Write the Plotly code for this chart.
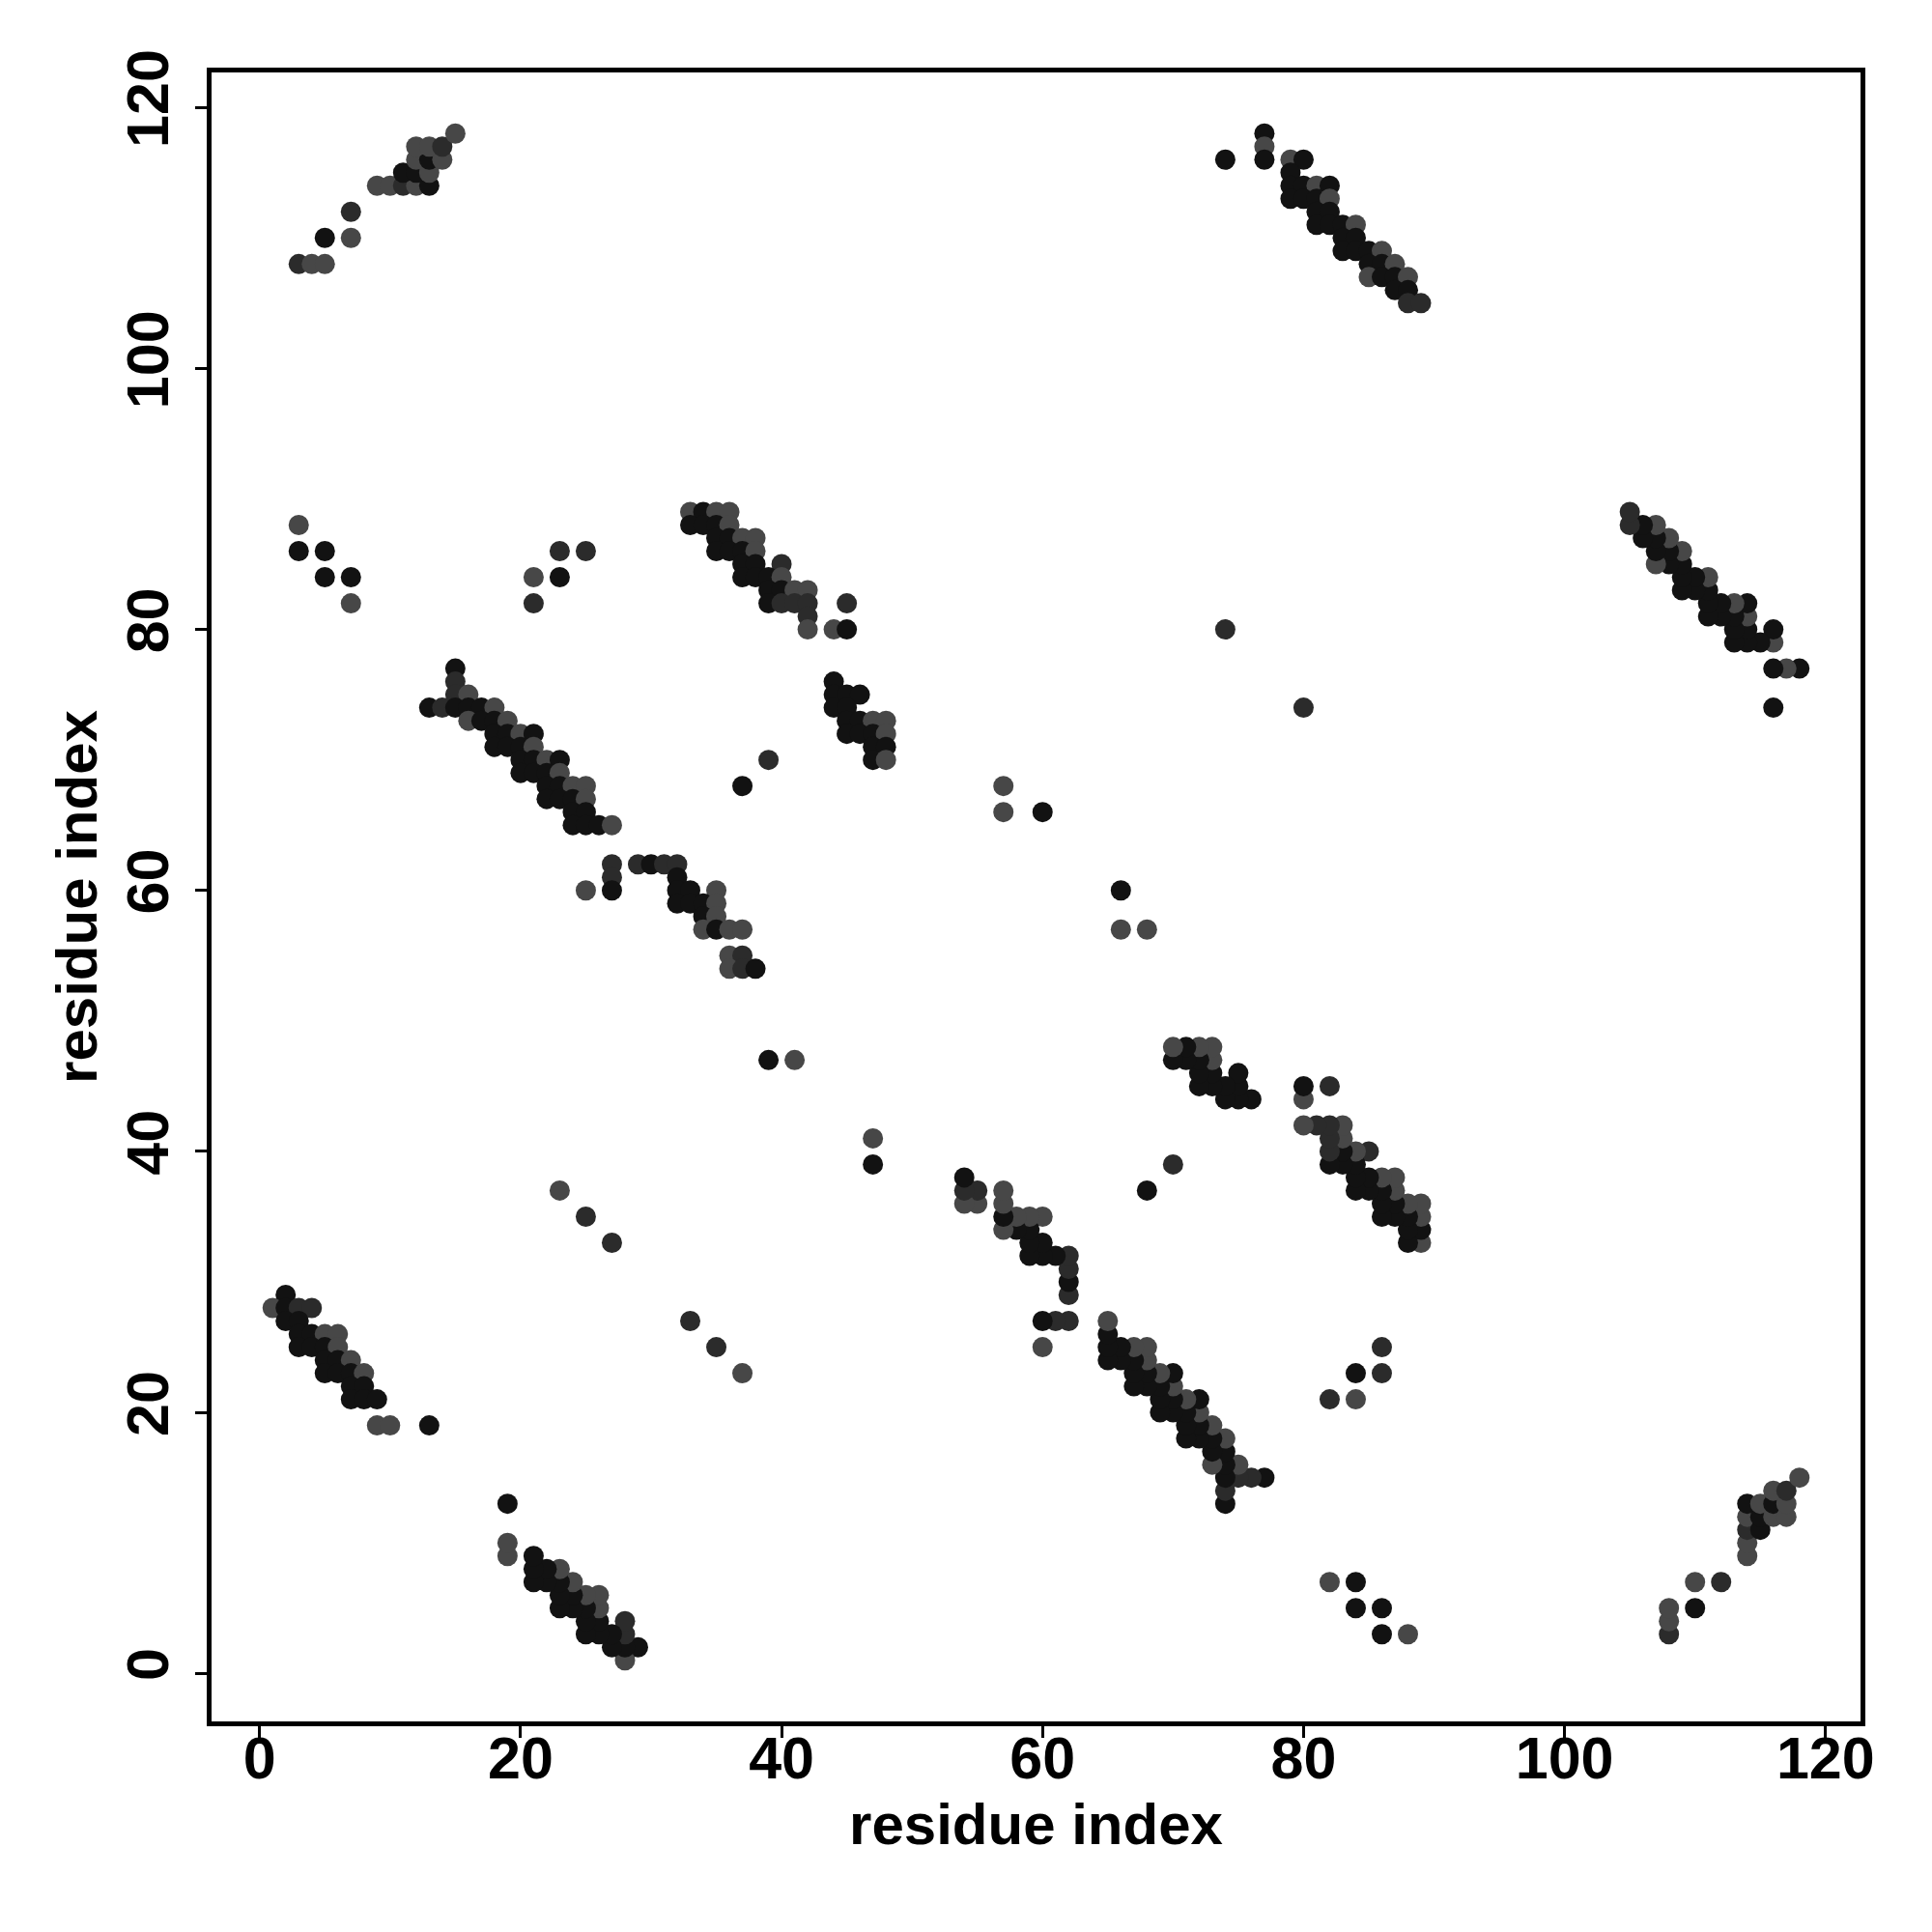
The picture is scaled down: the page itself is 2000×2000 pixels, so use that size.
import plotly.graph_objects as go

# Contact pairs (i < j in the upper-left triangle as drawn: x=i, y=j); map is symmetric.
# Each entry: (i, j, shade) with shade 'd' (darkest), 'm' (dark grey), 'l' (grey)
contacts_cluster_a = [
    (3,108,'m'),(4,108,'l'),(5,108,'l'),(5,110,'d'),(7,110,'l'),(7,112,'m'),
    (9,114,'l'),(10,114,'l'),(11,114,'m'),(12,114,'l'),(13,114,'d'),
    (11,115,'d'),(12,115,'d'),(13,115,'l'),(12,116,'l'),(13,116,'d'),(14,116,'l'),
    (12,117,'l'),(13,117,'l'),(14,117,'m'),(15,118,'l'),
]
contacts_cluster_b = [
    (74,116,'d'),(77,118,'d'),(77,117,'l'),(77,116,'d'),(79,116,'l'),(80,116,'d'),
    (79,115,'d'),(79,114,'d'),(80,114,'d'),(81,114,'l'),(82,114,'d'),
    (79,113,'d'),(80,113,'d'),(81,113,'d'),(82,113,'l'),(81,112,'d'),(82,112,'d'),
    (81,111,'d'),(82,111,'d'),(83,111,'d'),(84,111,'l'),(83,110,'d'),(84,110,'d'),
    (83,109,'d'),(84,109,'d'),(85,109,'d'),(86,109,'l'),(85,108,'d'),(86,108,'d'),
    (87,108,'l'),(85,107,'l'),(86,107,'d'),(87,107,'d'),(88,107,'l'),
    (87,106,'d'),(88,106,'d'),(88,105,'m'),(89,105,'m'),
]
contacts_cluster_c = [
    (3,88,'l'),(3,86,'d'),(5,86,'d'),(5,84,'d'),(7,84,'d'),(7,82,'l'),
    (21,84,'l'),(23,84,'d'),(21,82,'m'),(23,86,'m'),(25,86,'m'),
]
contacts_cluster_d = [
    (33,89,'l'),(34,89,'d'),(35,89,'l'),(36,89,'l'),
    (33,88,'d'),(34,88,'d'),(35,88,'d'),(36,88,'l'),
    (35,87,'d'),(36,87,'d'),(37,87,'l'),(38,87,'l'),
    (35,86,'d'),(36,86,'d'),(37,86,'d'),(38,86,'l'),
    (37,85,'d'),(38,85,'d'),(40,85,'m'),
    (37,84,'d'),(38,84,'d'),(39,84,'d'),(40,84,'l'),
    (39,83,'d'),(40,83,'d'),(41,83,'l'),(42,83,'l'),
    (39,82,'d'),(40,82,'m'),(41,82,'m'),(42,82,'m'),
    (42,81,'m'),(42,80,'l'),(45,82,'m'),(44,80,'l'),(45,80,'d'),
    (44,76,'d'),(44,75,'d'),(45,75,'d'),(46,75,'d'),(44,74,'d'),(45,74,'d'),
    (45,73,'d'),(46,73,'d'),(47,73,'l'),(48,73,'l'),
    (45,72,'d'),(46,72,'d'),(47,72,'d'),(48,72,'l'),
    (47,71,'d'),(48,71,'d'),(47,70,'d'),(48,70,'l'),
    (39,70,'m'),(37,68,'d'),
]
contacts_cluster_e = [
    (15,77,'d'),(15,76,'m'),(15,75,'m'),(16,75,'l'),
    (13,74,'d'),(14,74,'m'),(15,74,'d'),(16,74,'d'),(17,74,'d'),(18,74,'l'),
    (16,73,'l'),(17,73,'d'),(18,73,'d'),(19,73,'l'),
    (18,72,'d'),(19,72,'d'),(20,72,'l'),(21,72,'d'),
    (18,71,'d'),(19,71,'d'),(20,71,'d'),(21,71,'l'),
    (20,70,'d'),(21,70,'d'),(22,70,'l'),(23,70,'d'),
    (20,69,'d'),(21,69,'d'),(22,69,'d'),(23,69,'l'),
    (22,68,'d'),(23,68,'d'),(24,68,'l'),(25,68,'l'),
    (22,67,'d'),(23,67,'d'),(24,67,'d'),(25,67,'l'),
    (24,66,'d'),(25,66,'d'),
    (24,65,'d'),(25,65,'d'),(26,65,'d'),(27,65,'l'),
    (27,62,'m'),(27,61,'m'),(27,60,'d'),(25,60,'l'),
    (29,62,'m'),(30,62,'d'),(31,62,'m'),(32,62,'m'),(32,61,'d'),
    (32,60,'d'),(33,60,'d'),(35,60,'l'),
    (32,59,'d'),(33,59,'d'),(34,59,'d'),(35,59,'l'),
    (34,58,'d'),(35,58,'l'),
    (34,57,'l'),(35,57,'d'),(36,57,'l'),(37,57,'l'),
    (36,55,'l'),(37,55,'m'),(36,54,'l'),(37,54,'m'),(38,54,'d'),
]
contacts_cluster_f = [
    (2,29,'d'),(1,28,'l'),(2,28,'d'),(3,28,'m'),(4,28,'m'),(2,27,'d'),(3,27,'d'),
    (3,26,'d'),(4,26,'d'),(5,26,'l'),(6,26,'l'),
    (3,25,'d'),(4,25,'d'),(5,25,'d'),(6,25,'l'),
    (5,24,'d'),(6,24,'d'),(7,24,'l'),
    (5,23,'d'),(6,23,'d'),(7,23,'d'),(8,23,'l'),
    (7,22,'d'),(8,22,'d'),(7,21,'d'),(8,21,'d'),(9,21,'d'),
    (9,19,'l'),(10,19,'l'),(13,19,'d'),
]
contacts_isolated = [
    (74,80,'m'),(57,68,'l'),(57,66,'l'),(60,66,'d'),
    (39,47,'d'),(41,47,'l'),(23,37,'l'),(25,35,'m'),(27,33,'m'),
]

shade_colors = {'d': '#121212', 'm': '#2b2b2b', 'l': '#474747'}

all_contacts = (contacts_cluster_a + contacts_cluster_b + contacts_cluster_c +
                contacts_cluster_d + contacts_cluster_e + contacts_cluster_f +
                contacts_isolated)

res_i = [c[0] for c in all_contacts]
res_j = [c[1] for c in all_contacts]
shade = [c[2] for c in all_contacts]

xs = res_i + res_j
ys = res_j + res_i
cols = [shade_colors[s] for s in shade] * 2

fig = go.Figure(go.Scatter(
    x=xs, y=ys, mode='markers',
    marker=dict(size=21, color=cols, line=dict(width=0)),
    showlegend=False,
))

tick_vals = [0, 20, 40, 60, 80, 100, 120]
font_fam = "Liberation Sans, Arial, sans-serif"

axis_common = dict(
    range=[-3.68, 122.68], tickvals=tick_vals, ticks='outside', ticklen=12,
    tickwidth=3, tickcolor='black', showline=True, linecolor='black',
    linewidth=5, mirror=True, showgrid=False, zeroline=False,
    tickfont=dict(family=font_fam, size=61, color='black', weight='bold'),
)

fig.update_layout(
    width=2000, height=2000,
    paper_bgcolor='white', plot_bgcolor='white',
    margin=dict(l=211, r=82, t=67, b=226, autoexpand=False),
    xaxis=dict(**axis_common, ticklabelstandoff=-31,
               title=dict(text='<b>residue index</b>', standoff=15,
                          font=dict(family=font_fam, size=60, color='black'))),
    yaxis=dict(**axis_common, tickangle=-90, ticklabelstandoff=4,
               title=dict(text='<b>residue index</b>', standoff=0,
                          font=dict(family=font_fam, size=60, color='black'))),
)

fig.write_html("out.html")
